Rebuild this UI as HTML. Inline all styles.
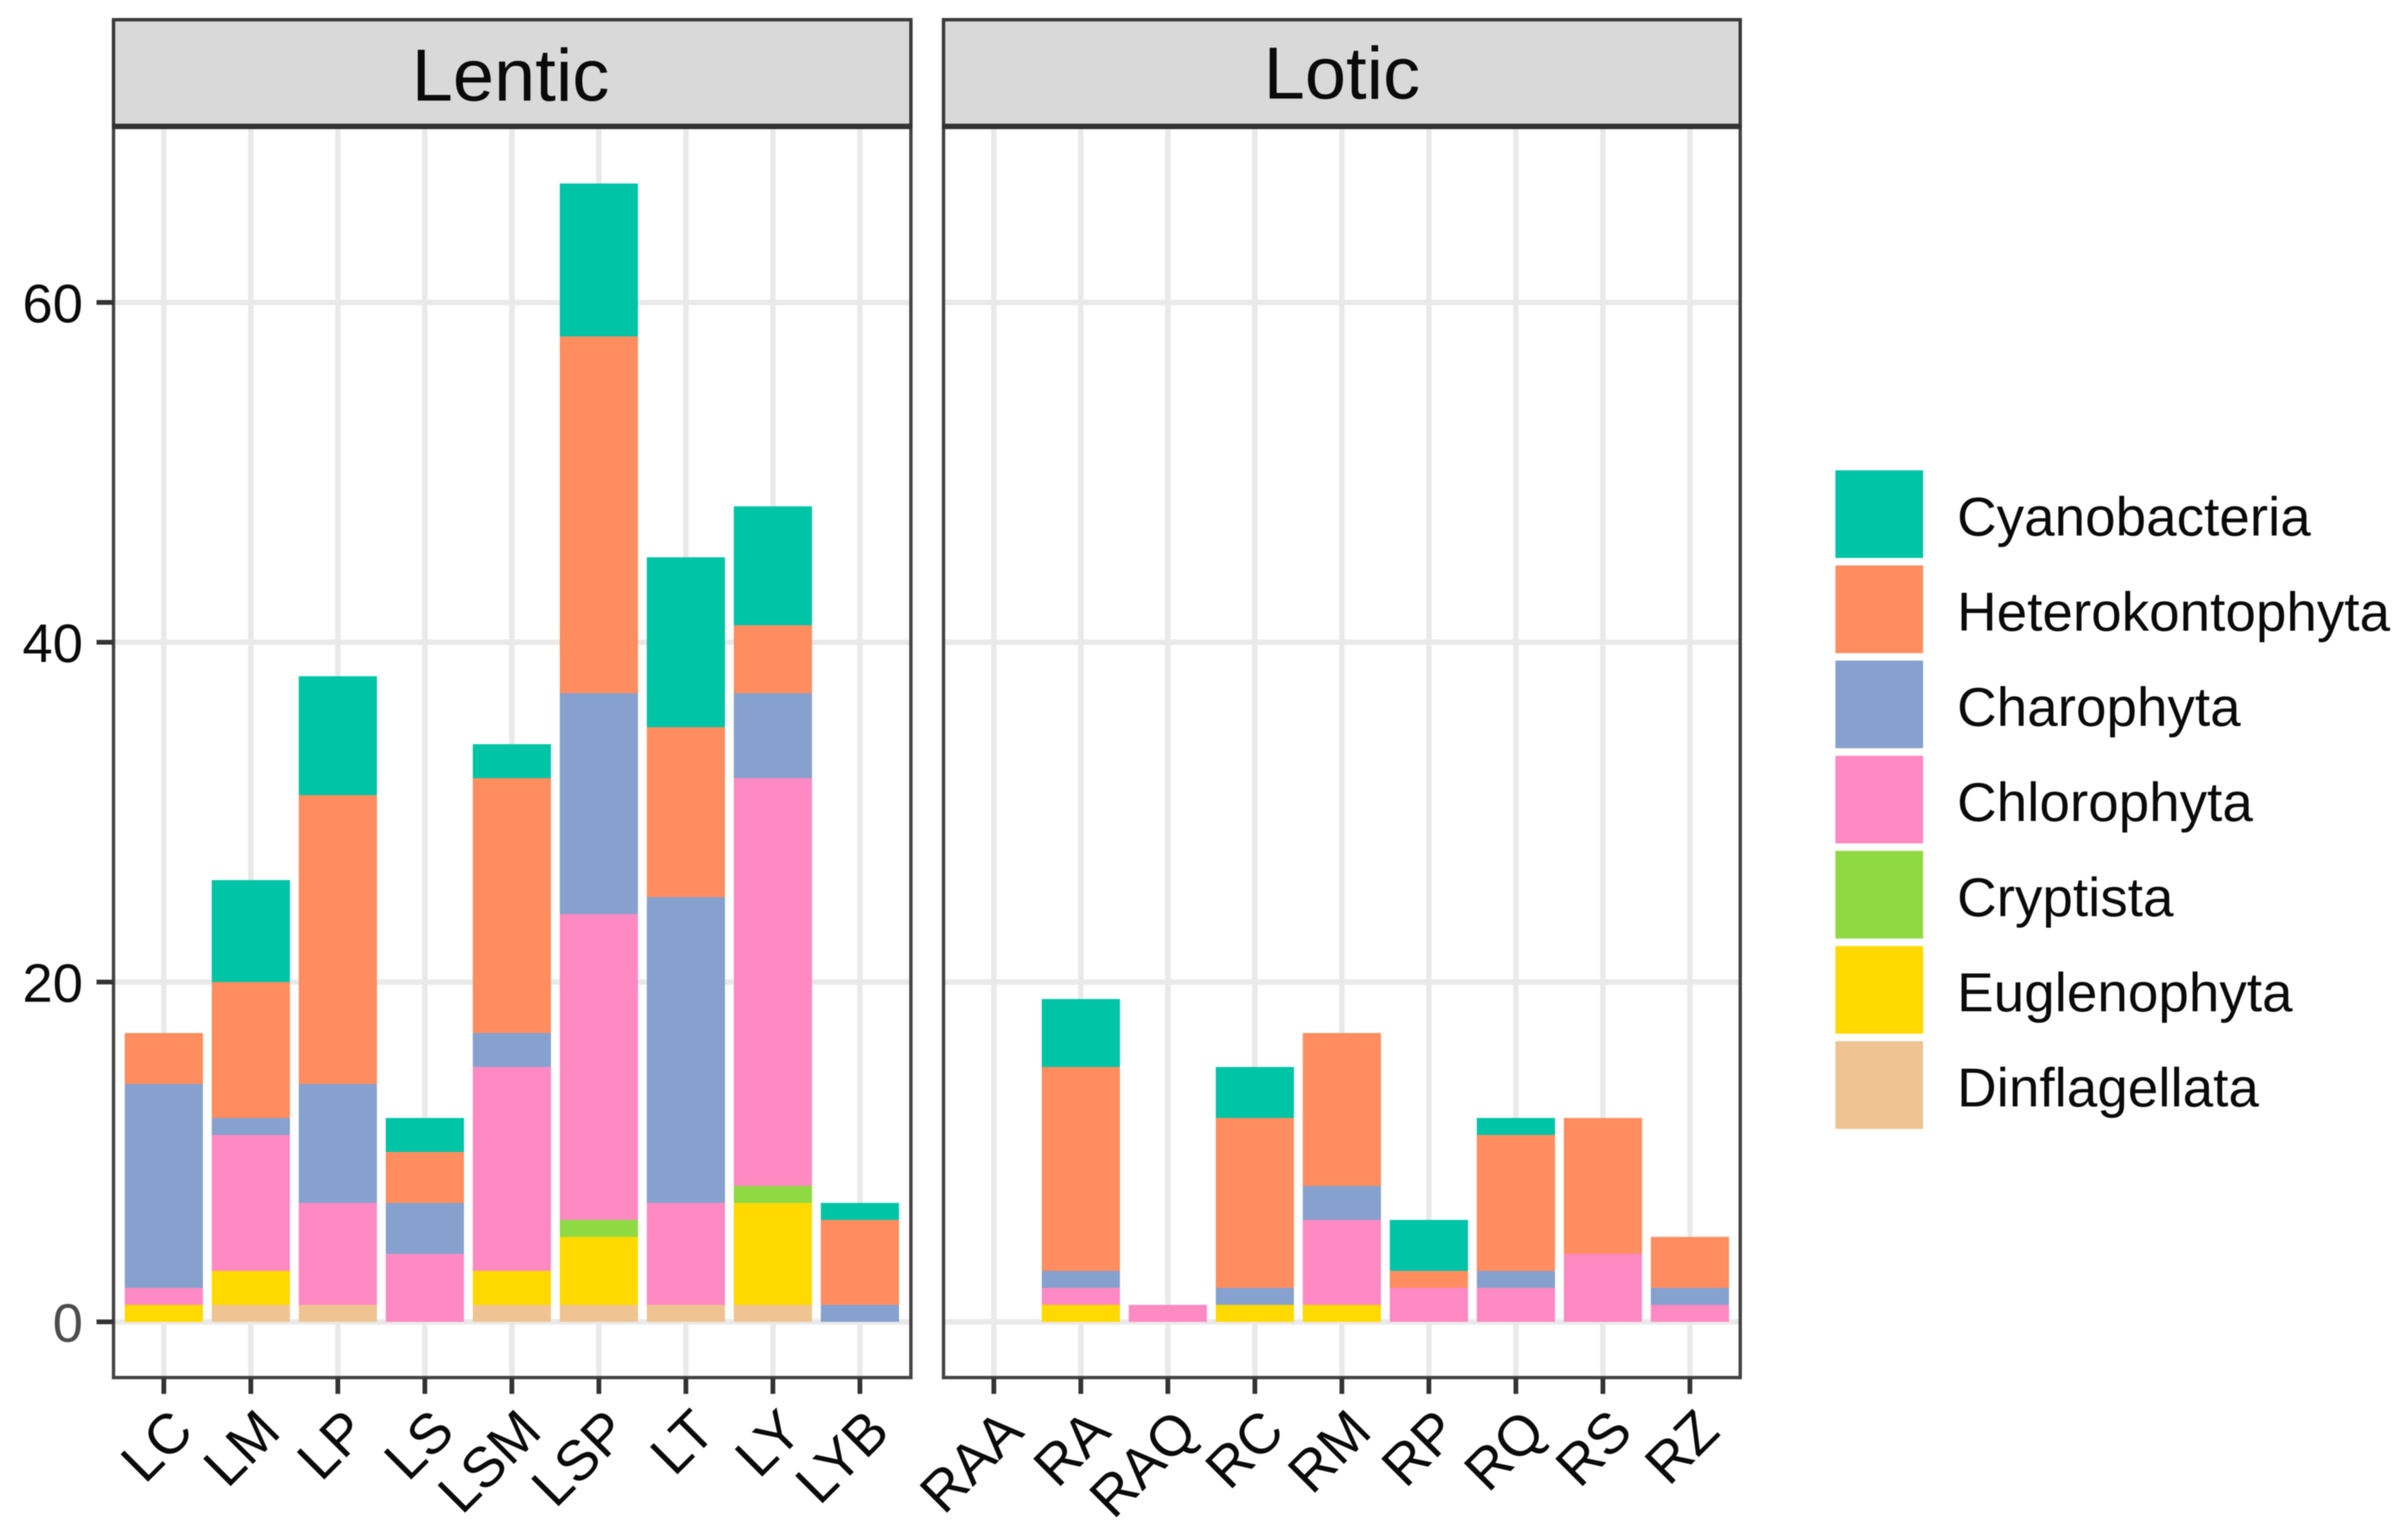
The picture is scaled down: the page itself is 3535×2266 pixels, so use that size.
<!DOCTYPE html>
<html lang="en">
<head>
<meta charset="utf-8">
<title>Phytoplankton taxa richness by site</title>
<style>
  html, body { margin: 0; padding: 0; background: #ffffff; }
  svg { display: block; font-family: "Liberation Sans", Arial, sans-serif; filter: blur(0.7px); }
</style>
</head>
<body>
<svg id="chart" xmlns="http://www.w3.org/2000/svg" width="3535" height="2266" viewBox="0 0 3535 2266">
  <rect x="0" y="0" width="3535" height="2266" fill="#ffffff"/>
  <g id="panels"></g>
  <g id="strips">
    <rect x="167" y="29" width="1173" height="157" fill="#d9d9d9" stroke="#3a3a3a" stroke-width="5"/>
    <rect x="1388" y="29" width="1172" height="157" fill="#d9d9d9" stroke="#3a3a3a" stroke-width="5"/>
    <line x1="165" x2="1342" y1="186" y2="186" stroke="#333333" stroke-width="8"/>
    <line x1="1386" x2="2562" y1="186" y2="186" stroke="#333333" stroke-width="8"/>
    <text x="751" y="148" font-size="109" text-anchor="middle" fill="#0a0a0a">Lentic</text>
    <text x="1974" y="145" font-size="109" text-anchor="middle" fill="#0a0a0a">Lotic</text>
  </g>
  <g id="legend"></g>
</svg>
<script>
const categories = ["LC","LM","LP","LS","LSM","LSP","LT","LY","LYB","RAA","RA","RAQ","RC","RM","RP","RQ","RS","RZ"];
const lenticCount = 9;
const yTicks = [0, 20, 40, 60];
const yTickLabels = ["0", "20", "40", "60"];

const seriesNames = ["Cyanobacteria","Heterokontophyta","Charophyta","Chlorophyta","Cryptista","Euglenophyta","Dinflagellata"];
const seriesColors = ["#00c4a6","#ff8d60","#87a1ce","#ff89c3","#8fd943","#ffd900","#efc492"];

const cyanobacteria    = [0,6,7,2,2,9,10,7,1,  0,4,0,3,0,3,1,0,0];
const heterokontophyta = [3,8,17,3,15,21,10,4,5,  0,12,0,10,9,1,8,8,3];
const charophyta       = [12,1,7,3,2,13,18,5,1,  0,1,0,1,2,0,1,0,1];
const chlorophyta      = [1,8,6,4,12,18,6,24,0,  0,1,1,0,5,2,2,4,1];
const cryptista        = [0,0,0,0,0,1,0,1,0,  0,0,0,0,0,0,0,0,0];
const euglenophyta     = [1,2,0,0,2,4,0,6,0,  0,1,0,1,1,0,0,0,0];
const dinflagellata    = [0,1,1,0,1,1,1,1,0,  0,0,0,0,0,0,0,0,0];

const seriesValues = [cyanobacteria, heterokontophyta, charophyta, chlorophyta, cryptista, euglenophyta, dinflagellata];

const NS = "http://www.w3.org/2000/svg";
const panelTop = 186, panelBottom = 2027, zeroY = 1945, unitY = 25;
const stepX = 128, barWidth = 115;
const panels = [
  { key: "lentic", left: 167, right: 1340, firstX: 241, start: 0, end: lenticCount },
  { key: "lotic", left: 1388, right: 2560, firstX: 1462, start: lenticCount, end: categories.length }
];
function yScale(v) { return zeroY - v * unitY; }
function xScale(panel, index) { return panel.firstX + (index - panel.start) * stepX; }
function make(tag, attrs, parent) {
  const el = document.createElementNS(NS, tag);
  Object.keys(attrs).forEach(function (k) { el.setAttribute(k, attrs[k]); });
  parent.appendChild(el);
  return el;
}

const panelsRoot = document.getElementById("panels");
panels.forEach(function (panel) {
  const g = make("g", {}, panelsRoot);
  
  

  const bg = make("rect", { x: panel.left, y: panelTop, width: panel.right - panel.left, height: panelBottom - panelTop, fill: "#ffffff" }, g);
  
  

  yTicks.forEach(function (t) {
    const line = make("line", { x1: panel.left, x2: panel.right, y1: yScale(t), y2: yScale(t), stroke: "#e9e9e9", "stroke-width": 8 }, g);
    
    
  });
  for (let i = panel.start; i < panel.end; i++) {
    const line = make("line", { x1: xScale(panel, i), x2: xScale(panel, i), y1: panelTop, y2: panelBottom, stroke: "#e9e9e9", "stroke-width": 8 }, g);
    
    
  }

  for (let i = panel.start; i < panel.end; i++) {
    let cumulative = 0;
    for (let s = seriesValues.length - 1; s >= 0; s--) {
      const value = seriesValues[s][i];
      if (!value) continue;
      const bar = make("rect", {
        x: xScale(panel, i) - barWidth / 2,
        y: yScale(cumulative + value),
        width: barWidth,
        height: value * unitY,
        fill: seriesColors[s],
        "shape-rendering": "crispEdges"
      }, g);
      
      
      cumulative += value;
    }
  }

  const border = make("rect", { x: panel.left, y: panelTop, width: panel.right - panel.left, height: panelBottom - panelTop, fill: "none", stroke: "#444444", "stroke-width": 5 }, g);
  
  

  for (let i = panel.start; i < panel.end; i++) {
    const tx = xScale(panel, i);
    const tick = make("line", { x1: tx, x2: tx, y1: panelBottom, y2: 2051, stroke: "#333333", "stroke-width": 7 }, g);
    
    

    const lx = tx + 47, ly = 2110;
    const label = make("text", { x: lx, y: ly, "font-size": 83, "text-anchor": "end", fill: "#0a0a0a", transform: "rotate(-45 " + lx + " " + ly + ")" }, g);
    
    
    label.textContent = categories[i];
  }
});

const firstPanel = panels[0];
yTicks.forEach(function (t, k) {
  const tick = make("line", { x1: 142, x2: firstPanel.left, y1: yScale(t), y2: yScale(t), stroke: "#333333", "stroke-width": 7 }, panelsRoot);
  
  

  const label = make("text", { x: 122, y: yScale(t) + 29, "font-size": 80, "text-anchor": "end", fill: t === 0 ? "#4d4d4d" : "#0a0a0a" }, panelsRoot);
  
  
  label.textContent = yTickLabels[k];
});

const legendRoot = document.getElementById("legend");
const legendTop = 692, legendStep = 140, keySize = 129, keyLeft = 2700, legendTextX = 2879;
seriesNames.forEach(function (name, k) {
  const entry = make("g", {}, legendRoot);
  
  

  const key = make("rect", { x: keyLeft, y: legendTop + k * legendStep, width: keySize, height: keySize, fill: seriesColors[k] }, entry);
  
  

  const text = make("text", { x: legendTextX, y: legendTop + k * legendStep + 96, "font-size": 80.7, fill: "#0a0a0a" }, entry);
  
  
  text.textContent = name;
});
</script>
</body>
</html>
